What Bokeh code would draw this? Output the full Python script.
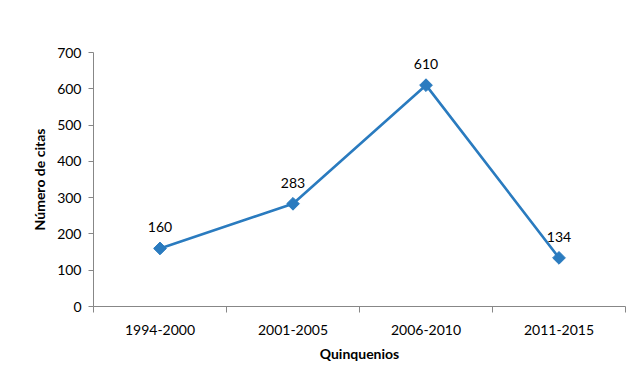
import math
from bokeh.plotting import figure
from bokeh.models import Range1d, FixedTicker, ColumnDataSource, LinearAxis
from bokeh.embed import file_html
from bokeh.resources import INLINE
from bokeh.core.properties import value

categories = ["1994-2000", "2001-2005", "2006-2010", "2011-2015"]
citas = [160, 283, 610, 134]
y_ticks = [0, 100, 200, 300, 400, 500, 600, 700]

FONT = "Lato"
GRAY = "#878787"
BLUE = "#2a7bbf"

n = len(categories)
xs = [i + 0.5 for i in range(n)]
src = ColumnDataSource(dict(x=xs, y=citas, lbl=[str(v) for v in citas]))

p = figure(width=636, height=380, output_backend="svg", toolbar_location=None,
           x_range=Range1d(0, n), y_range=Range1d(0, 700),
           min_border_left=93, min_border_right=11, min_border_top=52, min_border_bottom=74,
           x_axis_type=None, y_axis_type=None)
p.outline_line_color = None
p.background_fill_color = "white"
p.border_fill_color = "white"

xa = LinearAxis(ticker=FixedTicker(ticks=xs, minor_ticks=list(range(n + 1))))
xa.major_label_overrides = {x: c for x, c in zip(xs, categories)}
xa.major_tick_line_color = None
xa.minor_tick_line_color = GRAY
xa.minor_tick_out = 6
xa.minor_tick_in = 0
xa.axis_line_color = GRAY
xa.major_label_text_font = FONT
xa.major_label_text_font_size = "14px"
xa.major_label_text_color = "#000000"
xa.major_label_standoff = 12
xa.axis_label = "Quinquenios"
xa.axis_label_text_font = FONT
xa.axis_label_text_font_style = "bold"
xa.axis_label_text_font_size = "14px"
xa.axis_label_text_color = "#000000"
xa.axis_label_standoff = 7
p.add_layout(xa, "below")

ya = LinearAxis(ticker=FixedTicker(ticks=y_ticks))
ya.axis_line_color = GRAY
ya.major_tick_line_color = GRAY
ya.major_tick_out = 5
ya.major_tick_in = 0
ya.minor_tick_line_color = None
ya.major_label_text_font = FONT
ya.major_label_text_font_size = "14px"
ya.major_label_text_color = "#000000"
ya.major_label_standoff = 7
ya.axis_label = "Número de citas"
ya.axis_label_text_font = FONT
ya.axis_label_text_font_style = "bold"
ya.axis_label_text_font_size = "14px"
ya.axis_label_text_color = "#000000"
ya.axis_label_standoff = 6
p.add_layout(ya, "left")

p.xgrid.grid_line_color = None
p.ygrid.ticker = FixedTicker(ticks=y_ticks)
p.ygrid.grid_line_color = GRAY
p.ygrid.grid_line_width = 1

p.line("x", "y", source=src, line_color=BLUE, line_width=2.6)
p.scatter("x", "y", source=src, marker="square", angle=math.pi / 4, size=9,
          fill_color=BLUE, line_color=BLUE)
p.text("x", "y", text="lbl", source=src, text_font=value(FONT), text_font_size="14px",
       text_align="center", text_baseline="bottom", y_offset=-16, text_color="#000000")

open("out.html", "w").write(file_html(p, INLINE))
